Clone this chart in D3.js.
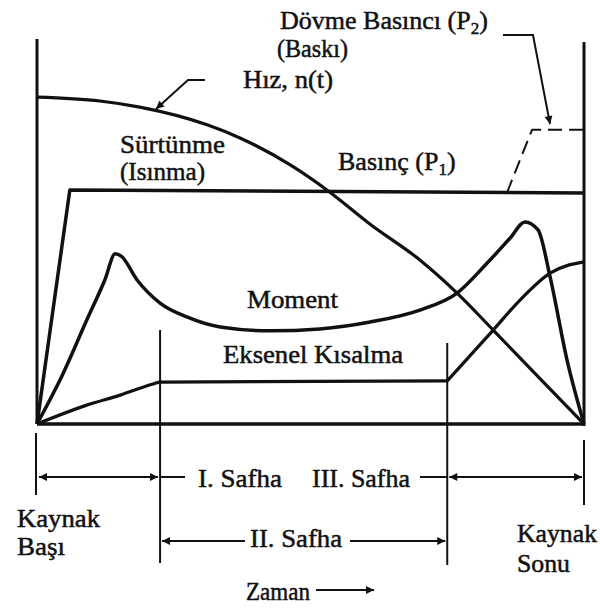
<!DOCTYPE html>
<html>
<head>
<meta charset="utf-8">
<script src="https://cdn.jsdelivr.net/npm/d3@7"></script>
<style>
    body { margin: 0; background: #fff; }
</style>
</head>
<body>
<div id="chart"></div>
<script>
// time in % of weld cycle, values in relative units (0-100)
const speedTime = [0, 11.5, 18.8, 31.1, 37.1, 46.3, 53.0, 60.9, 70.0, 76.8, 83.4, 92.0, 100];
const speedValue = [84.9, 83.9, 82.3, 77.7, 74.3, 67.3, 60.8, 51.9, 42.6, 34.0, 24.4, 11.7, 0];

const pressureTime = [0, 6.0, 100];
const pressureValue = [0, 60.8, 60.0];

const forgeTime = [85.9, 90.5, 100];
const forgeValue = [60.0, 76.4, 76.4];

const momentTime = [0, 4.8, 9.1, 12.4, 14.3, 15.4, 18.3, 22.5, 27.4, 33.5, 42.6, 51.7, 60.9, 70.0, 76.8, 82.3, 86.5, 89.2, 91.6, 93.8, 96.9, 100];
const momentValue = [0, 13.2, 27.0, 37.4, 44.2, 43.6, 37.4, 31.4, 27.8, 25.2, 24.2, 24.7, 26.5, 29.6, 34.0, 41.8, 48.3, 52.5, 50.4, 38.2, 16.6, 0];

const axialTime = [0, 9.1, 15.2, 21.2, 22.5, 75.0, 83.4, 88.3, 93.8, 100];
const axialValue = [0, 4.9, 7.5, 10.4, 10.9, 11.2, 24.4, 32.2, 39.2, 42.1];

// phase borders (I | II | III)
const phaseBorders = [22.5, 75.0];

class WeldVis {
    constructor(parentElement) {
        this.parentElement = parentElement;
        this.initVis();
    }

    initVis() {
        let vis = this;

        vis.width = 600;
        vis.height = 608;

        vis.svg = d3.select("#" + vis.parentElement).append("svg")
            .attr("width", vis.width)
            .attr("height", vis.height);

        let defs = vis.svg.append("defs");
        defs.append("marker")
            .attr("id", "head")
            .attr("viewBox", "0 0 10 10")
            .attr("refX", 10).attr("refY", 5)
            .attr("markerUnits", "userSpaceOnUse")
            .attr("markerWidth", 12).attr("markerHeight", 8)
            .attr("orient", "auto-start-reverse")
            .append("path")
            .attr("d", "M0,0 L10,5 L0,10 Z")
            .attr("fill", "#111");

        vis.x = d3.scaleLinear().domain([0, 100]).range([37, 584]);
        vis.y = d3.scaleLinear().domain([0, 100]).range([424, 39]);

        vis.smooth = d3.line()
            .x(d => vis.x(d[0]))
            .y(d => vis.y(d[1]))
            .curve(d3.curveMonotoneX);

        vis.straight = d3.line()
            .x(d => vis.x(d[0]))
            .y(d => vis.y(d[1]));

        vis.drawFrame();
        vis.drawCurves();
        vis.drawPhases();
        vis.drawLabels();
    }

    drawFrame() {
        let vis = this;
        let g = vis.svg.append("g").attr("stroke", "#111").attr("stroke-width", 3);

        g.append("line")
            .attr("x1", vis.x(0)).attr("x2", vis.x(0))
            .attr("y1", vis.y(100)).attr("y2", vis.y(0));
        g.append("line")
            .attr("x1", vis.x(100)).attr("x2", vis.x(100))
            .attr("y1", vis.y(99.2)).attr("y2", vis.y(0) + 2);
        g.append("line")
            .attr("x1", vis.x(0)).attr("x2", vis.x(100))
            .attr("y1", vis.y(0)).attr("y2", vis.y(0))
            .attr("stroke-width", 3.5);
    }

    drawCurves() {
        let vis = this;
        let zip = (a, b) => a.map((t, i) => [t, b[i]]);

        let curves = vis.svg.append("g")
            .attr("fill", "none")
            .attr("stroke", "#111")
            .attr("stroke-linejoin", "round");

        curves.append("path")
            .attr("d", vis.smooth(zip(speedTime, speedValue)))
            .attr("stroke-width", 3.2);

        curves.append("path")
            .attr("d", vis.straight(zip(pressureTime, pressureValue)))
            .attr("stroke-width", 3.5);

        curves.append("path")
            .attr("d", vis.straight(zip(forgeTime, forgeValue)))
            .attr("stroke-width", 2)
            .attr("stroke-dasharray", "14,7");

        curves.append("path")
            .attr("d", vis.smooth(zip(momentTime, momentValue)))
            .attr("stroke-width", 3.5);

        // axial shortening: kink at the start of phase III
        let axial = zip(axialTime, axialValue);
        let k = axialTime.indexOf(phaseBorders[1]);
        curves.append("path")
            .attr("d", vis.smooth(axial.slice(0, k + 1)))
            .attr("stroke-width", 3.2);
        curves.append("path")
            .attr("d", vis.smooth(axial.slice(k)))
            .attr("stroke-width", 3.2);
    }

    drawPhases() {
        let vis = this;
        let g = vis.svg.append("g").attr("stroke", "#111").attr("stroke-width", 2).attr("fill", "none");

        let x1 = vis.x(phaseBorders[0]), x2 = vis.x(phaseBorders[1]);
        let x0 = vis.x(0), x3 = vis.x(100);

        g.append("line").attr("x1", x1).attr("x2", x1).attr("y1", 330).attr("y2", 563);
        g.append("line").attr("x1", x2).attr("x2", x2).attr("y1", 343).attr("y2", 565);
        g.append("line").attr("x1", x0 - 1).attr("x2", x0 - 1).attr("y1", 433).attr("y2", 495);
        g.append("line").attr("x1", x3).attr("x2", x3).attr("y1", 440).attr("y2", 505);

        let rowA = 477, rowB = 541;

        // phase I (both heads) and phase III (both heads)
        g.append("line").attr("x1", x0 + 2).attr("x2", x1 - 2).attr("y1", rowA).attr("y2", rowA)
            .attr("marker-start", "url(#head)").attr("marker-end", "url(#head)");
        g.append("line").attr("x1", x1).attr("x2", 185).attr("y1", rowA).attr("y2", rowA);
        g.append("line").attr("x1", 420).attr("x2", x2).attr("y1", rowA).attr("y2", rowA);
        g.append("line").attr("x1", x2 + 2).attr("x2", x3 - 2).attr("y1", rowA).attr("y2", rowA)
            .attr("marker-start", "url(#head)").attr("marker-end", "url(#head)");

        // phase II
        g.append("line").attr("x1", 245).attr("x2", x1 + 2).attr("y1", rowB).attr("y2", rowB)
            .attr("marker-end", "url(#head)");
        g.append("line").attr("x1", 350).attr("x2", x2 - 2).attr("y1", rowB).attr("y2", rowB)
            .attr("marker-end", "url(#head)");

        // time arrow
        g.append("line").attr("x1", 316).attr("x2", 374).attr("y1", 590).attr("y2", 590)
            .attr("marker-end", "url(#head)");

        // leaders
        g.append("polyline").attr("points", "503,35 533,35 550,124").attr("marker-end", "url(#head)");
        g.append("polyline").attr("points", "205,80 188,80 156,109").attr("marker-end", "url(#head)");
    }

    drawLabels() {
        let vis = this;
        let g = vis.svg.append("g")
            .attr("font-family", "'Liberation Serif', 'DejaVu Serif', serif")
            .attr("font-size", 26)
            .attr("fill", "#111")
            .attr("stroke", "#111")
            .attr("stroke-width", 0.5);

        // text, x, baseline y, width
        let plain = [
            ["(Baskı)", 277, 57, 71],
            ["Hız, n(t)", 243, 88, 90],
            ["Sürtünme", 120, 153, 105],
            ["(Isınma)", 120, 180, 85],
            ["Moment", 247, 308, 91],
            ["Eksenel Kısalma", 223, 363, 180],
            ["I. Safha", 198, 487, 84],
            ["III. Safha", 312, 487, 98],
            ["II. Safha", 250, 547, 92],
            ["Kaynak", 17, 527, 83],
            ["Başı", 17, 555, 48],
            ["Kaynak", 517, 542, 80],
            ["Sonu", 517, 572, 53],
            ["Zaman", 246, 600, 64]
        ];

        g.selectAll("text.lbl")
            .data(plain)
            .enter().append("text")
            .attr("class", "lbl")
            .attr("x", d => d[1])
            .attr("y", d => d[2])
            .attr("textLength", d => d[3])
            .attr("lengthAdjust", "spacingAndGlyphs")
            .text(d => d[0]);

        let dovme = g.append("text").attr("x", 280).attr("y", 29);
        dovme.append("tspan").text("Dövme Basıncı (P");
        dovme.append("tspan").attr("font-size", 17).attr("dy", 5).text("2");
        dovme.append("tspan").attr("dy", -5).text(")");

        let basinc = g.append("text").attr("x", 338).attr("y", 170);
        basinc.append("tspan").text("Basınç (P");
        basinc.append("tspan").attr("font-size", 17).attr("dy", 5).text("1");
        basinc.append("tspan").attr("dy", -5).text(")");
    }
}

new WeldVis("chart");
</script>
</body>
</html>
